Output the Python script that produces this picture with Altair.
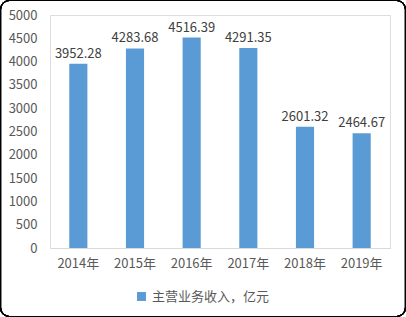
import altair as alt
import pandas as pd

years = ["2014年", "2015年", "2016年", "2017年", "2018年", "2019年"]
values = [3952.28, 4283.68, 4516.39, 4291.35, 2601.32, 2464.67]
series = "主营业务收入，亿元"
y_ticks = [0, 500, 1000, 1500, 2000, 2500, 3000, 3500, 4000, 4500, 5000]

df = pd.DataFrame({"year": years, "value": values, "series": [series] * len(years)})
df["label"] = [f"{v:.2f}" for v in values]

FONT = "Noto Sans CJK SC"
base = alt.Chart(df)

x = alt.X("year:N", sort=years, title=None,
          scale=alt.Scale(paddingInner=0.68, paddingOuter=0.34),
          axis=alt.Axis(labelAngle=0, ticks=False, domainColor="#D9D9D9",
                        labelColor="#595959", labelFont=FONT, labelFontSize=13,
                        labelPadding=9, grid=False))
y = alt.Y("value:Q", title=None,
          scale=alt.Scale(domain=[0, 5000], nice=False),
          axis=alt.Axis(values=y_ticks, ticks=False, domain=False,
                        grid=False, labelColor="#595959", labelFont=FONT,
                        labelFontSize=13, labelPadding=13, format="d",
                        labelOverlap=False, labelFlush=False))

bars = base.mark_bar(color="#5B9BD5").encode(
    x=x, y=y,
    color=alt.Color("series:N", scale=alt.Scale(range=["#5B9BD5"]), title=None,
                    legend=alt.Legend(orient="none", legendX=85, legendY=275,
                                      symbolType="square", symbolSize=80,
                                      labelFont=FONT, labelFontSize=13,
                                      labelColor="#595959", symbolStrokeWidth=0)),
)

labels = base.mark_text(baseline="bottom", dy=-3, font=FONT, fontSize=13,
                        color="#404040").encode(
    x=x, y=y, text="label:N")

border = base.mark_rect(filled=False, stroke="#000000", strokeWidth=1.2,
                        cornerRadius=9, clip=False).encode(
    x=alt.value(-49.5), x2=alt.value(355.5), y=alt.value(-14.5), y2=alt.value(301.5))

chart = alt.layer(bars, labels, border).properties(
    width=340, height=233,
    autosize=alt.AutoSizeParams(type="none"),
    padding={"left": 50, "top": 15, "right": 16, "bottom": 69},
).configure_view(stroke=None).configure(background="white")

chart.save("out.html", embed_options={"renderer": "svg", "actions": False})
